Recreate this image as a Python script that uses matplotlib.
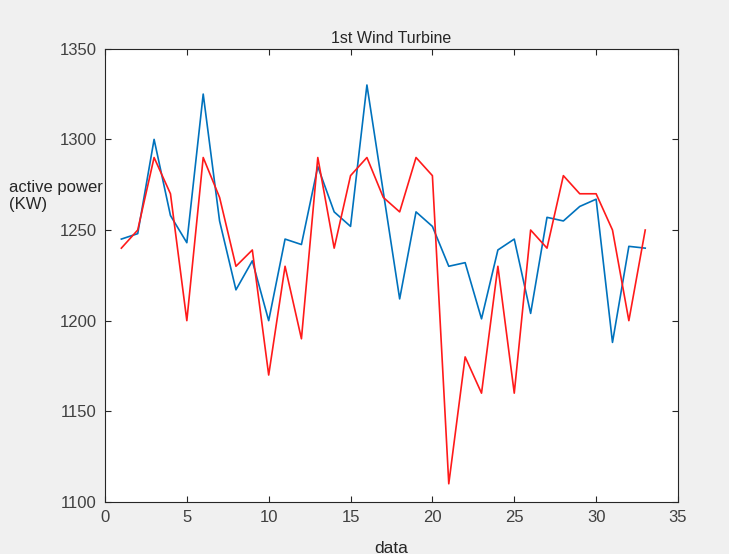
import matplotlib
matplotlib.use("Agg")
import matplotlib.pyplot as plt

# measured vs. estimated active power for the first turbine
sample = list(range(1, 34))
power_blue = [1245, 1248, 1300, 1258, 1243, 1325, 1255, 1217, 1233, 1200,
              1245, 1242, 1285, 1260, 1252, 1330, 1271, 1212, 1260, 1252,
              1230, 1232, 1201, 1239, 1245, 1204, 1257, 1255, 1263, 1267,
              1188, 1241, 1240]
power_red = [1240, 1250, 1290, 1270, 1200, 1290, 1268, 1230, 1239, 1170,
             1230, 1190, 1290, 1240, 1280, 1290, 1268, 1260, 1290, 1280,
             1110, 1180, 1160, 1230, 1160, 1250, 1240, 1280, 1270, 1270,
             1250, 1200, 1250]

x_ticks = [0, 5, 10, 15, 20, 25, 30, 35]
y_ticks = [1100, 1150, 1200, 1250, 1300, 1350]

plt.rcParams['font.family'] = ['Liberation Sans', 'DejaVu Sans']

fig = plt.figure(figsize=(7.29, 5.54), dpi=100, facecolor='#f0f0f0')
ax = fig.add_axes([0.144, 0.094, 0.786, 0.818])
ax.set_facecolor('white')

ax.plot(sample, power_blue, color='#0072BD', linewidth=1.2)
ax.plot(sample, power_red, color='#ff1a1a', linewidth=1.2)

ax.set_xlim(0, 35)
ax.set_ylim(1100, 1350)
ax.set_xticks(x_ticks)
ax.set_yticks(y_ticks)
ax.tick_params(direction='in', top=True, right=True, length=4,
               labelsize=12, colors='#262626', labelcolor='#404040', pad=6)
for side in ax.spines.values():
    side.set_color('#262626')
    side.set_linewidth(0.8)

ax.set_title('1st Wind Turbine', fontsize=11.5, color='#262626', pad=4)
ax.set_xlabel('data', fontsize=12.5, color='#262626', labelpad=11)
fig.text(0.013, 0.646, 'active power\n(KW)', fontsize=12,
         color='#262626', ha='left', va='center', linespacing=1.15)

fig.savefig('out.png', dpi=100, facecolor=fig.get_facecolor())
